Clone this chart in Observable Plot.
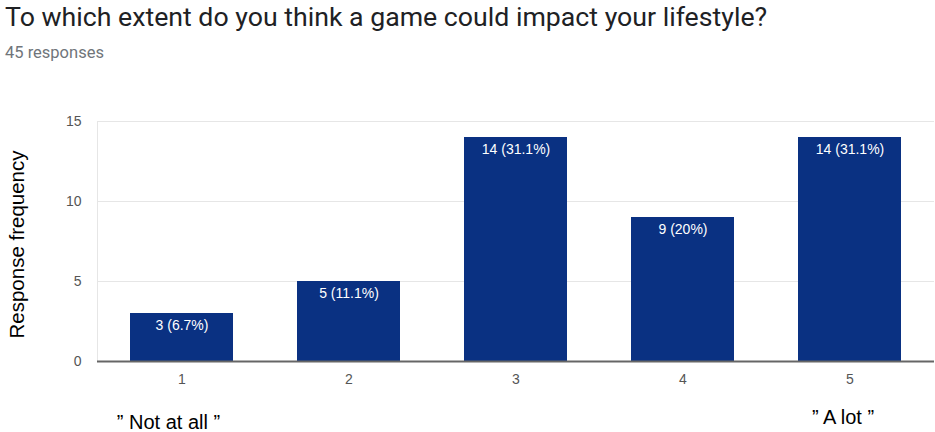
<!DOCTYPE html>
<html>
<head>
<meta charset="utf-8">
<script src="https://cdn.jsdelivr.net/npm/d3@7"></script>
<script src="https://cdn.jsdelivr.net/npm/@observablehq/plot@0.6"></script>
<style>
  html, body { margin: 0; padding: 0; background: #fff; }
  #head { height: 70px; position: relative; font-family: Roboto, sans-serif; }
  #title { position: absolute; left: 5px; top: 1px; font-size: 26.7px; color: #202124; white-space: nowrap; }
  #sub { position: absolute; left: 5px; top: 43px; font-size: 16.5px; color: #70757a; }
  svg { display: block; }
</style>
</head>
<body>
<div id="head">
  <div id="title">To which extent do you think a game could impact your lifestyle?</div>
  <div id="sub">45 responses</div>
</div>
<div id="chart"></div>
<script>
const categories = ["1", "2", "3", "4", "5"];
const counts = [3, 5, 14, 9, 14];
const labels = ["3 (6.7%)", "5 (11.1%)", "14 (31.1%)", "9 (20%)", "14 (31.1%)"];
const yTicks = [0, 5, 10, 15];
const yTitle = "Response frequency";
const endNotes = [
  {cat: "1", text: "\u201D Not at all \u201D"},
  {cat: "5", text: "\u201D A lot \u201D"}
];

const data = categories.map((c, i) => ({cat: c, n: counts[i], label: labels[i]}));
const font = "'Liberation Sans', Arial, sans-serif";

const chart = Plot.plot({
  width: 935,
  height: 362,
  marginLeft: 97,
  marginRight: 1,
  marginTop: 51,
  marginBottom: 71,
  style: {fontFamily: font, fontSize: "14px", color: "#555"},
  x: {domain: categories, paddingInner: 0.385, paddingOuter: 0.19, label: null},
  y: {domain: [0, 15], ticks: yTicks, label: null},
  marks: [
    Plot.gridY(yTicks.filter(d => d > 0), {stroke: "#e6e6e6", strokeOpacity: 1}),
    Plot.frame({anchor: "left", stroke: "#e6e6e6"}),
    Plot.axisY({ticks: yTicks, tickSize: 0, tickPadding: 16, fontSize: 14, fill: "#555"}),
    Plot.axisX({tickSize: 0, tickPadding: 13, fontSize: 14, fill: "#555"}),
    Plot.barY(data, {x: "cat", y: "n", fill: "#0a3182"}),
    Plot.ruleY([0], {stroke: "#666", strokeWidth: 2}),
    Plot.text(data, {x: "cat", y: "n", text: "label", dy: 12, fill: "#fff", fontSize: 14}),
    Plot.text([yTitle], {text: d => d, frameAnchor: "left", textAnchor: "middle", rotate: -90, dx: -80, dy: 3, fontSize: 20.5, fill: "#000"}),
    Plot.text(endNotes.slice(0, 1), {x: "cat", y: () => 0, text: "text", dx: -13.5, dy: 61.5, fontSize: 20, fill: "#000"}),
    Plot.text(endNotes.slice(1), {x: "cat", y: () => 0, text: "text", dx: -7, dy: 56.5, fontSize: 20, fill: "#000"})
  ]
});
document.getElementById("chart").appendChild(chart);
</script>
</body>
</html>
